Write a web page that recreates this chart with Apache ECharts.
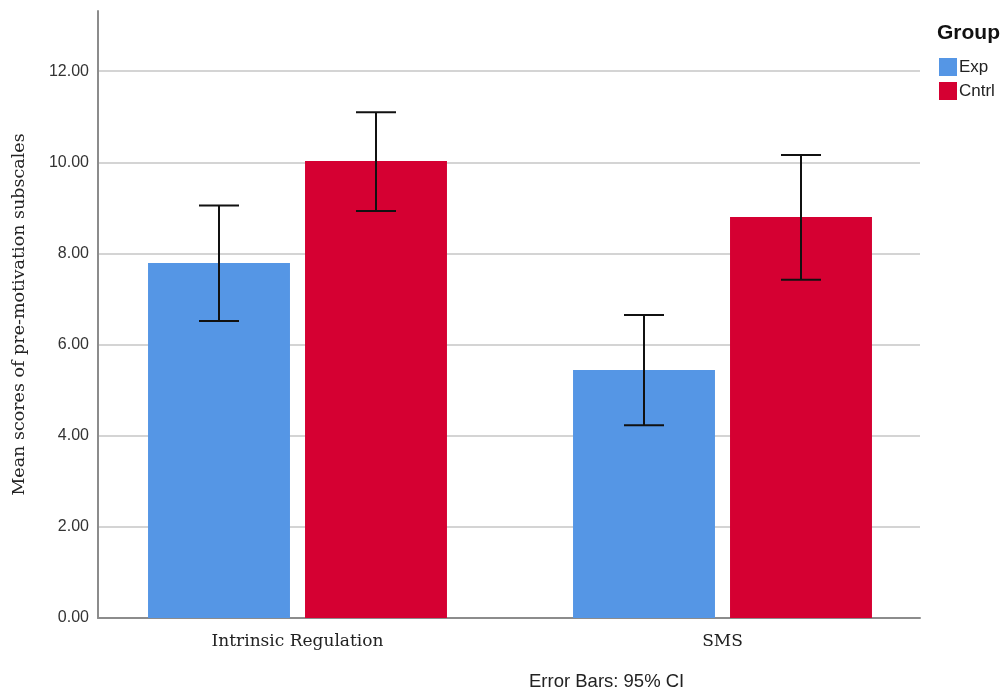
<!DOCTYPE html>
<html>
<head>
<meta charset="utf-8">
<script src="https://cdn.jsdelivr.net/npm/echarts@6/dist/echarts.min.js"></script>
<style>html,body{margin:0;padding:0;background:#fff}#c{width:1004px;height:692px}</style>
</head>
<body>
<div id="c"></div>
<script>
const categories = ['Intrinsic Regulation', 'SMS'];
const groups = ['Exp', 'Cntrl'];
const expMean = [7.79, 5.44];
const expLow = [6.52, 4.23];
const expHigh = [9.05, 6.65];
const cntrlMean = [10.03, 8.80];
const cntrlLow = [8.93, 7.42];
const cntrlHigh = [11.10, 10.16];
const yTicks = [0, 2, 4, 6, 8, 10, 12];

const BAR_PCT = 0.334;
const GAP_PCT = 0.106;
const colors = ['#5596e5', '#d50032'];

function errSeries(name, low, high, side) {
  return {
    type: 'custom', name: name + ' CI', xAxisIndex: 1, yAxisIndex: 1, z: 5,
    silent: true,
    data: categories.map((c, i) => [i, low[i], high[i]]),
    renderItem: function (params, api) {
      const band = api.size([1, 0])[0];
      const bw = band * BAR_PCT;
      const off = side * (bw + bw * GAP_PCT) / 2;
      const pL = api.coord([api.value(0), api.value(1)]);
      const pH = api.coord([api.value(0), api.value(2)]);
      const x = pL[0] + off;
      const cap = 20;
      const st = { stroke: '#111', lineWidth: 2 };
      return { type: 'group', children: [
        { type: 'line', shape: { x1: x, y1: pL[1], x2: x, y2: pH[1] }, style: st },
        { type: 'line', shape: { x1: x - cap, y1: pL[1], x2: x + cap, y2: pL[1] }, style: st },
        { type: 'line', shape: { x1: x - cap, y1: pH[1], x2: x + cap, y2: pH[1] }, style: st }
      ]};
    }
  };
}

const gridColors = yTicks.map(() => '#d4d4d4').concat(['rgba(0,0,0,0)']);

const chart = echarts.init(document.getElementById('c'), null, { renderer: 'canvas' });
chart.setOption({
  animation: false,
  backgroundColor: '#fff',
  title: {
    text: 'Group', left: 932, top: 18,
    textStyle: { fontFamily: 'Liberation Sans', fontSize: 21, fontWeight: 'bold', color: '#111' }
  },
  legend: {
    data: groups, orient: 'vertical', left: 934, top: 53,
    itemWidth: 18, itemHeight: 18, itemGap: 6, icon: 'rect',
    textStyle: { fontFamily: 'Liberation Sans', fontSize: 17, color: '#222', padding: [0, 0, 0, -3] }
  },
  graphic: [{
    type: 'text', left: 529, top: 672,
    style: { text: 'Error Bars: 95% CI', fontFamily: 'Liberation Sans', fontSize: 18.5, fill: '#222' }
  }],
  grid: [
    { left: 98, right: 84, top: 11, bottom: 74 },
    { left: 85, right: 69, top: 11, bottom: 74 }
  ],
  xAxis: [
    { gridIndex: 0, type: 'category', data: categories,
      axisLine: { show: true, lineStyle: { color: '#8c8c8c', width: 2 } },
      axisTick: { show: false }, axisLabel: { show: false }, splitLine: { show: false } },
    { gridIndex: 1, type: 'category', data: categories,
      axisLine: { show: false }, axisTick: { show: false },
      axisLabel: { show: true, margin: 15, fontFamily: 'DejaVu Serif', fontSize: 17, color: '#222' } }
  ],
  yAxis: [
    { gridIndex: 0, type: 'value', min: 0, max: 13.32, interval: 2,
      name: 'Mean scores of pre-motivation subscales', nameLocation: 'middle', nameGap: 70,
      nameTextStyle: { fontFamily: 'DejaVu Serif', fontSize: 17.5, color: '#222' },
      axisLine: { show: true, lineStyle: { color: '#8c8c8c', width: 2 } },
      axisTick: { show: false },
      axisLabel: { margin: 9, fontFamily: 'Liberation Sans', fontSize: 16, color: '#333',
        formatter: v => (yTicks.indexOf(v) >= 0 ? v.toFixed(2) : '') },
      splitLine: { show: true, lineStyle: { color: gridColors, width: 2 } } },
    { gridIndex: 1, type: 'value', min: 0, max: 13.32, interval: 2, show: false,
      splitLine: { show: false } }
  ],
  series: [
    { type: 'bar', name: 'Exp', xAxisIndex: 1, yAxisIndex: 1, data: expMean,
      barWidth: (BAR_PCT * 100) + '%', barGap: (GAP_PCT * 100) + '%',
      itemStyle: { color: colors[0] } },
    { type: 'bar', name: 'Cntrl', xAxisIndex: 1, yAxisIndex: 1, data: cntrlMean,
      barWidth: (BAR_PCT * 100) + '%', barGap: (GAP_PCT * 100) + '%',
      itemStyle: { color: colors[1] } },
    errSeries('Exp', expLow, expHigh, -1),
    errSeries('Cntrl', cntrlLow, cntrlHigh, 1)
  ]
});
</script>
</body>
</html>
